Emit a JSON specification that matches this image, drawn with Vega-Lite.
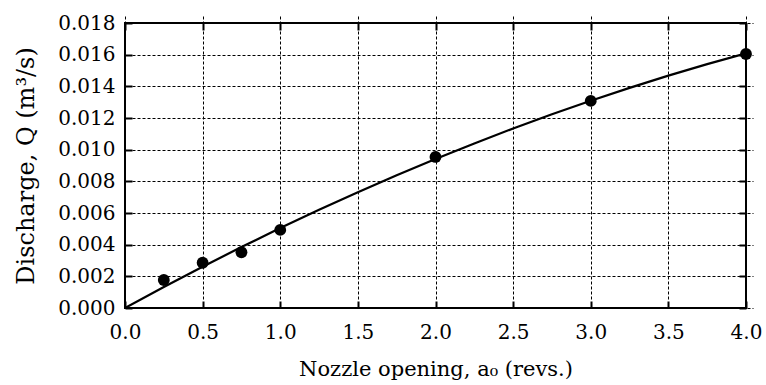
{
  "$schema": "https://vega.github.io/schema/vega-lite/v6.json",
  "width": 621,
  "height": 285,
  "autosize": {"type": "none"},
  "padding": {"left": 125, "top": 23, "right": 20, "bottom": 77},
  "background": "white",
  "config": {
    "view": {"stroke": "black", "strokeWidth": 2},
    "axis": {
      "labelFont": "DejaVu Serif",
      "labelFontSize": 20,
      "labelColor": "black",
      "titleFont": "DejaVu Serif",
      "titleFontSize": 21,
      "titleFontWeight": "normal",
      "titleColor": "black",
      "domain": false,
      "tickColor": "black",
      "tickWidth": 2,
      "tickSize": 7,
      "offset": -7,
      "gridColor": "black",
      "gridDash": [3, 2],
      "gridWidth": 1,
      "gridOpacity": 1
    }
  },
  "datasets": {
    "pts": [
      {"a": 0.25, "Q": 0.00177},
      {"a": 0.5, "Q": 0.00286},
      {"a": 0.75, "Q": 0.00352},
      {"a": 1.0, "Q": 0.00493},
      {"a": 2.0, "Q": 0.00954},
      {"a": 3.0, "Q": 0.01308},
      {"a": 4.0, "Q": 0.01604}
    ],
    "fit": [
      {"a": 0, "Q": 0},
      {"a": 0.25, "Q": 0.001326},
      {"a": 0.5, "Q": 0.00261},
      {"a": 0.75, "Q": 0.00385},
      {"a": 1.0, "Q": 0.005048},
      {"a": 1.25, "Q": 0.006203},
      {"a": 1.5, "Q": 0.007316},
      {"a": 1.75, "Q": 0.008385},
      {"a": 2.0, "Q": 0.009412},
      {"a": 2.25, "Q": 0.010396},
      {"a": 2.5, "Q": 0.011338},
      {"a": 2.75, "Q": 0.012236},
      {"a": 3.0, "Q": 0.013092},
      {"a": 3.25, "Q": 0.013905},
      {"a": 3.5, "Q": 0.014675},
      {"a": 3.75, "Q": 0.015403},
      {"a": 4.0, "Q": 0.016088}
    ]
  },
  "layer": [
    {
      "data": {"name": "fit"},
      "mark": {"type": "line", "color": "black", "strokeWidth": 2.2, "clip": true},
      "encoding": {
        "x": {
          "field": "a", "type": "quantitative",
          "scale": {"domain": [0, 4], "nice": false},
          "axis": {
            "orient": "bottom",
            "title": "Nozzle opening, a₀ (revs.)",
            "values": [0, 0.5, 1, 1.5, 2, 2.5, 3, 3.5, 4],
            "format": ".1f",
            "labelPadding": 14,
            "titlePadding": 16,
            "labelFlush": false
          }
        },
        "y": {
          "field": "Q", "type": "quantitative",
          "scale": {"domain": [0, 0.018], "nice": false},
          "axis": {
            "orient": "left",
            "title": "Discharge, Q (m³/s)",
            "titleFontSize": 24,
            "values": [0, 0.002, 0.004, 0.006, 0.008, 0.01, 0.012, 0.014, 0.016, 0.018],
            "format": ".3f",
            "labelPadding": 10,
            "titlePadding": 19,
            "labelFlush": false
          }
        }
      }
    },
    {
      "data": {"name": "pts"},
      "mark": {"type": "circle", "color": "black", "opacity": 1, "size": 140, "clip": false},
      "encoding": {
        "x": {"field": "a", "type": "quantitative", "axis": null},
        "y": {"field": "Q", "type": "quantitative", "axis": null}
      }
    },
    {
      "data": {"name": "pts"},
      "mark": {"type": "point", "opacity": 0},
      "encoding": {
        "x": {"field": "a", "type": "quantitative", "axis": {"orient": "top", "labels": false, "title": null, "grid": false, "values": [0, 0.5, 1, 1.5, 2, 2.5, 3, 3.5, 4]}},
        "y": {"field": "Q", "type": "quantitative", "axis": {"orient": "right", "labels": false, "title": null, "grid": false, "values": [0, 0.002, 0.004, 0.006, 0.008, 0.01, 0.012, 0.014, 0.016, 0.018]}}
      }
    }
  ],
  "resolve": {"axis": {"x": "independent", "y": "independent"}}
}
